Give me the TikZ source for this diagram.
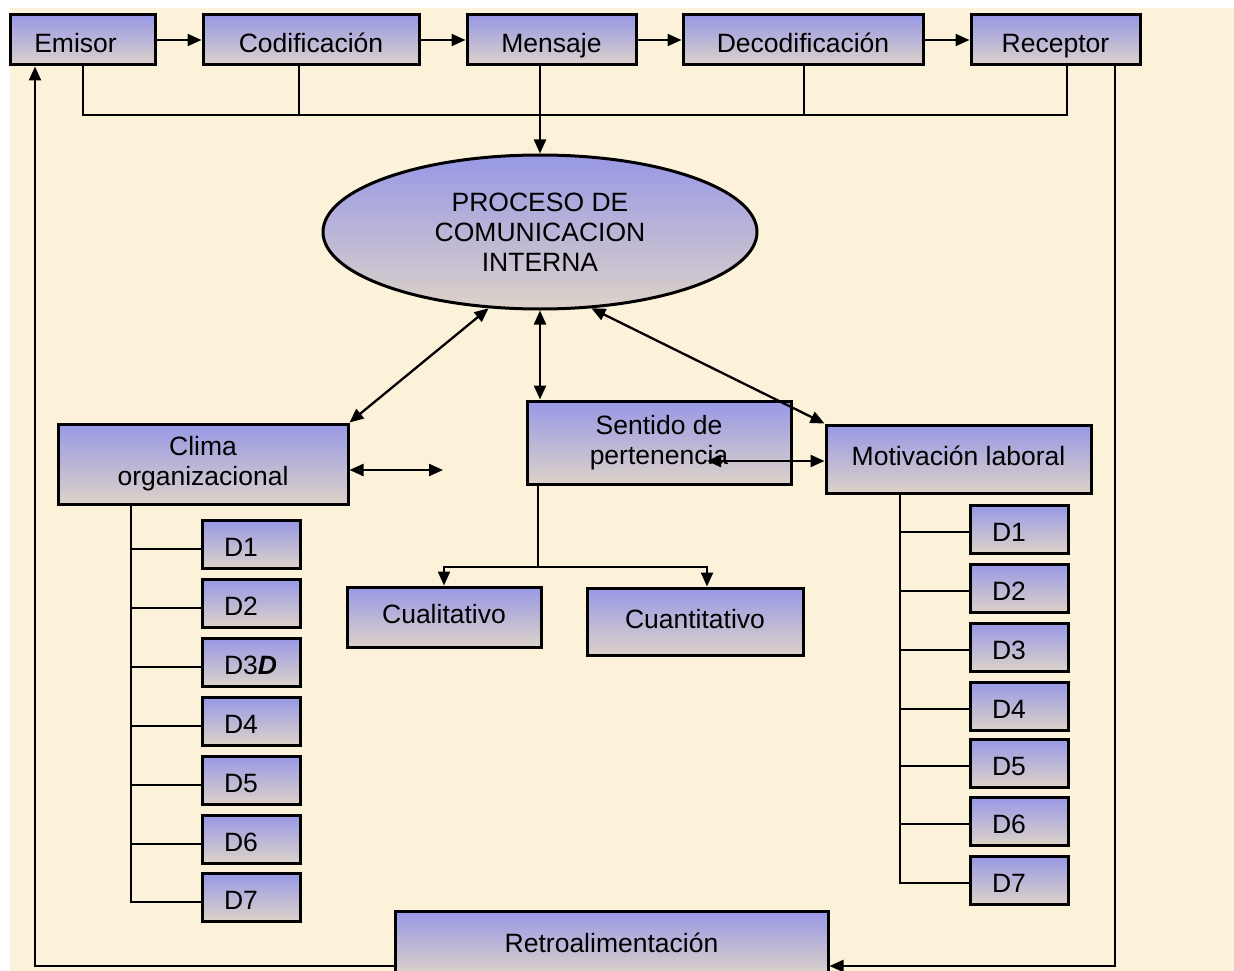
\documentclass[tikz,border=0pt]{standalone}
\usepackage{fontspec}
\setmainfont{Liberation Sans}
\usetikzlibrary{arrows.meta,shapes.geometric,calc}
\definecolor{bgpaper}{RGB}{252,242,217}
\definecolor{boxtop}{RGB}{152,152,230}
\definecolor{boxbot}{RGB}{220,210,200}
\tikzset{
  lbl/.style={font=\fontsize{26.5pt}{30pt}\selectfont},
  box/.style={lbl, draw=black, line width=3pt, top color=boxtop, bottom color=boxbot,
    rectangle, inner sep=2pt, align=center},
  onebox/.style={box, text height=19pt, text depth=5.5pt},
  topbox/.style={box, text height=30pt, text depth=4pt, minimum height=50pt},
  dbox/.style={box, text width=54pt, inner xsep=22pt, inner ysep=1pt, align=left, minimum height=48pt,
    text height=24pt, text depth=0pt},
  oval/.style={lbl, draw=black, line width=3pt, top color=boxtop, bottom color=boxbot,
    ellipse, inner sep=0pt, align=center},
  bus/.style={line width=2pt, line join=miter},
  arr/.style={line width=2.3pt, -{Triangle[length=14pt,width=12pt]}},
  darr/.style={line width=2.3pt, {Triangle[length=14pt,width=12pt]}-{Triangle[length=14pt,width=12pt]}}
}
\begin{document}
\begin{tikzpicture}[x=1pt,y=-1pt]
\useasboundingbox (0,0) rectangle (1234,971);
\clip (0,0) rectangle (1234,971);
\fill[white] (0,0) rectangle (1234,971);
\fill[bgpaper] (10,8) rectangle (1234,971);

% top row
\node[topbox, minimum width=145pt] (emisor) at (82.5,40) {Emisor\hspace*{14pt}};
\node[topbox, minimum width=216pt] (codif) at (311,40) {Codificación};
\node[topbox, minimum width=169pt] (mensaje) at (551.5,40) {Mensaje};
\node[topbox, minimum width=240pt] (decod) at (803,40) {Decodificación};
\node[topbox, minimum width=169pt] (receptor) at (1055.5,40) {Receptor};

% ellipse
\node[oval, minimum width=434pt, minimum height=154pt] (proc) at (540,232)
  {PROCESO DE\\COMUNICACION\\INTERNA};

% middle boxes
\node[box, minimum width=290pt, minimum height=80pt] (clima) at (203,464) {Clima\\organizacional};
\node[box, minimum width=264pt, minimum height=83pt] (sentido) at (659,442.5) {Sentido de\\pertenencia};
\node[onebox, minimum width=265pt, minimum height=68pt] (motiv) at (958.5,459) {Motivación laboral};
\node[onebox, minimum width=194pt, minimum height=60pt] (cuali) at (444,617) {Cualitativo};
\node[onebox, minimum width=216pt, minimum height=67pt] (cuanti) at (695,621.5) {Cuantitativo};

% left D boxes
\node[dbox] (dl1) at (251,544) {D1};
\node[dbox] (dl2) at (251,603) {D2};
\node[dbox] (dl3) at (251,662) {D3\textbf{\textit{D}}};
\node[dbox] (dl4) at (251,721) {D4};
\node[dbox] (dl5) at (251,780) {D5};
\node[dbox] (dl6) at (251,839) {D6};
\node[dbox] (dl7) at (251,897) {D7};

% right D boxes
\node[dbox] (dr1) at (1019,529) {D1};
\node[dbox] (dr2) at (1019,588) {D2};
\node[dbox] (dr3) at (1019,647) {D3};
\node[dbox] (dr4) at (1019,706) {D4};
\node[dbox] (dr5) at (1019,763) {D5};
\node[dbox] (dr6) at (1019,821) {D6};
\node[dbox] (dr7) at (1019,880) {D7};

% feedback box
\node[box, minimum width=433pt, minimum height=64pt] (retro) at (611.5,943) {Retroalimentación};

% coordinates
\coordinate (tb1) at (83,115);
\coordinate (tb2) at (299,115);
\coordinate (tb4) at (804,115);
\coordinate (tb5) at (1067,115);
\coordinate (fbL) at (35,966);
\coordinate (fbR) at (1115,966);
\coordinate (lbus) at (131,0);
\coordinate (rbus) at (900,0);
\coordinate (ctip) at (443,470);
\coordinate (stip) at (707,461);
\coordinate (sb) at (538,567);
\coordinate (sbR) at (707,567);

% top arrows
\draw[arr] (emisor.east) -- (codif.west);
\draw[arr] (codif.east) -- (mensaje.west);
\draw[arr] (mensaje.east) -- (decod.west);
\draw[arr] (decod.east) -- (receptor.west);

% top bus
\draw[bus] (emisor.south -| tb1) -- (tb1) -- (tb5) -- (receptor.south -| tb5);
\draw[bus] (codif.south -| tb2) -- (tb2);
\draw[bus] (decod.south -| tb4) -- (tb4);
\draw[arr] (mensaje.south -| proc.north) -- (proc.north);

% ellipse links
\draw[darr] (proc.236) -- (clima.north east);
\draw[darr] (proc.south) -- (proc.south |- sentido.north);
\draw[darr] (proc.304) -- (motiv.north west);
\draw[darr] (clima.east |- ctip) -- (ctip);
\draw[darr] (stip) -- (motiv.west |- stip);

% sentido branches
\draw[bus] (sentido.south -| sb) -- (sb);
\draw[arr] (sbR) -- (cuali.north |- sb) -- (cuali.north);
\draw[arr] (cuali.north |- sb) -- (sbR) -- (sbR |- cuanti.north);

% left D bus
\foreach \i in {1,...,7} {
  \draw[bus] (clima.south -| lbus) |- ([yshift=-5pt]dl\i.west);
}
% right D bus
\foreach \i in {1,...,7} {
  \draw[bus] (motiv.south -| rbus) |- ([yshift=-3pt]dr\i.west);
}

% feedback loop
\draw[arr] (retro.west |- fbL) -- (fbL) -- (emisor.south -| fbL);
\draw[arr] (receptor.south -| fbR) -- (fbR) -- (retro.east |- fbR);
\end{tikzpicture}
\end{document}
